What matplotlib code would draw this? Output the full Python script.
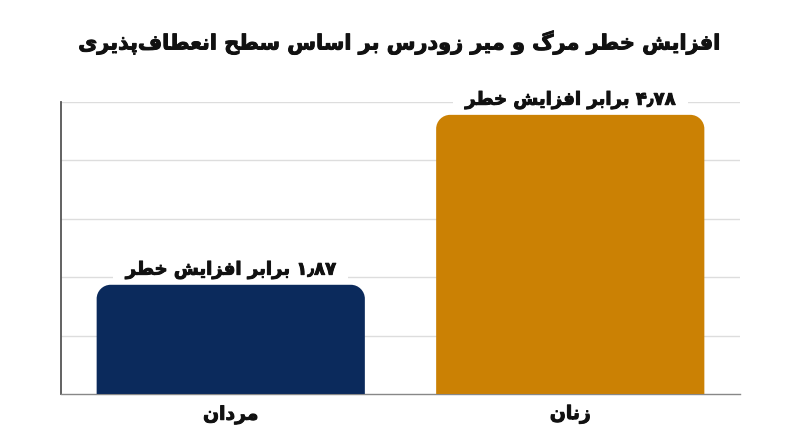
import matplotlib
matplotlib.use("Agg")
import matplotlib.pyplot as plt
import matplotlib.patheffects as pe
from matplotlib.path import Path
from matplotlib.patches import PathPatch

# chart data
categories = ["مردان", "زنان"]
values = [1.87, 4.78]
value_labels = ["۱٫۸۷ برابر افزایش خطر", "۴٫۷۸ برابر افزایش خطر"]
bar_colors = ["#0b2a5c", "#cb8104"]
title = "افزایش خطر مرگ و میر زودرس بر اساس سطح انعطاف\u200cپذیری"

# (isolated, final, initial, medial) - matplotlib does no arabic shaping
FORMS = {
    "\u0627": ("\uFE8D", "\uFE8E", None, None),
    "\u0628": ("\uFE8F", "\uFE90", "\uFE91", "\uFE92"),
    "\u067E": ("\uFB56", "\uFB57", "\uFB58", "\uFB59"),
    "\u062A": ("\uFE95", "\uFE96", "\uFE97", "\uFE98"),
    "\u062D": ("\uFEA1", "\uFEA2", "\uFEA3", "\uFEA4"),
    "\u062E": ("\uFEA5", "\uFEA6", "\uFEA7", "\uFEA8"),
    "\u062F": ("\uFEA9", "\uFEAA", None, None),
    "\u0630": ("\uFEAB", "\uFEAC", None, None),
    "\u0631": ("\uFEAD", "\uFEAE", None, None),
    "\u0632": ("\uFEAF", "\uFEB0", None, None),
    "\u0633": ("\uFEB1", "\uFEB2", "\uFEB3", "\uFEB4"),
    "\u0634": ("\uFEB5", "\uFEB6", "\uFEB7", "\uFEB8"),
    "\u0637": ("\uFEC1", "\uFEC2", "\uFEC3", "\uFEC4"),
    "\u0639": ("\uFEC9", "\uFECA", "\uFECB", "\uFECC"),
    "\u0641": ("\uFED1", "\uFED2", "\uFED3", "\uFED4"),
    "\u06AF": ("\uFB92", "\uFB93", "\uFB94", "\uFB95"),
    "\u0645": ("\uFEE1", "\uFEE2", "\uFEE3", "\uFEE4"),
    "\u0646": ("\uFEE5", "\uFEE6", "\uFEE7", "\uFEE8"),
    "\u0648": ("\uFEED", "\uFEEE", None, None),
    "\u06CC": ("\uFBFC", "\uFBFD", "\uFBFE", "\uFBFF"),
}


def joins_next(c):
    return c in FORMS and FORMS[c][2] is not None


def shape(word):
    out = []
    for i, c in enumerate(word):
        if c not in FORMS:
            if c != "\u200c":
                out.append(c)
            continue
        p = i > 0 and joins_next(word[i - 1])
        n = joins_next(c) and i + 1 < len(word) and word[i + 1] in FORMS
        iso, fin, ini, med = FORMS[c]
        if p and n:
            out.append(med)
        elif p:
            out.append(fin)
        elif n:
            out.append(ini)
        else:
            out.append(iso)
    return "".join(out)


def rtl(text):
    words = []
    for w in text.split(" "):
        if all(ch in "۰۱۲۳۴۵۶۷۸۹٫," for ch in w):
            words.append(w)
        else:
            words.append(shape(w)[::-1])
    return " ".join(words[::-1])


font = ["DejaVu Sans"]
heavy = [pe.withStroke(linewidth=0.7, foreground="#111111")]

fig = plt.figure(figsize=(8, 4.47), dpi=100)
ax = fig.add_axes([0.07625, 0.1186, 0.84875, 0.6532])

x = list(range(len(categories)))
bars = ax.bar(x, values, width=0.79, color=bar_colors, zorder=3)
ax.set_xlim(-0.5, 1.5)
ax.set_ylim(0, 5)

# rounded top corners
bbox = ax.get_position()
px_x = bbox.width * 800 / 2.0
px_y = bbox.height * 447 / 5.0
r = 14
rx, ry = r / px_x, r / px_y
k = 0.5523
for b in bars:
    x0, w, h = b.get_x(), b.get_width(), b.get_height()
    x1 = x0 + w
    verts = [
        (x0, 0), (x0, h - ry),
        (x0, h - ry + k * ry), (x0 + rx - k * rx, h), (x0 + rx, h),
        (x1 - rx, h),
        (x1 - rx + k * rx, h), (x1, h - ry + k * ry), (x1, h - ry),
        (x1, 0), (x0, 0),
    ]
    codes = [Path.MOVETO, Path.LINETO,
             Path.CURVE4, Path.CURVE4, Path.CURVE4,
             Path.LINETO,
             Path.CURVE4, Path.CURVE4, Path.CURVE4,
             Path.LINETO, Path.CLOSEPOLY]
    ax.add_patch(PathPatch(Path(verts, codes), facecolor=b.get_facecolor(),
                           edgecolor="none", zorder=3))
    b.set_visible(False)

for xi, v, lab in zip(x, values, value_labels):
    ax.annotate(" " + rtl(lab) + " ", (xi, v), xytext=(0, 15),
                textcoords="offset pixels", ha="center", va="center",
                fontsize=13, fontweight="bold", family=font, color="#111111",
                zorder=2.5, path_effects=heavy,
                bbox=dict(boxstyle="square,pad=0.35", fc="white", ec="none"))

ax.set_yticks([1, 2, 3, 4, 5])
ax.set_yticklabels([])
ax.tick_params(axis="both", length=0)
ax.grid(axis="y", color="#dddddd", linewidth=1, zorder=0)
ax.set_axisbelow(True)
ax.set_xticks(x)
ax.set_xticklabels([rtl(c) for c in categories], fontsize=13.5, fontweight="bold",
                   family=font, color="#111111")
for t in ax.get_xticklabels():
    t.set_path_effects(heavy)
ax.tick_params(axis="x", pad=8)

for s in ["top", "right"]:
    ax.spines[s].set_visible(False)
ax.spines["left"].set_color("#555555")
ax.spines["left"].set_linewidth(1.3)
ax.spines["bottom"].set_color("#888888")
ax.spines["bottom"].set_linewidth(1)

fig.text(0.5, 0.905, rtl(title), ha="center", va="center", fontsize=15,
         fontweight="bold", family=font, color="#111111", path_effects=heavy)

fig.savefig("out.png", dpi=100, facecolor="white")
